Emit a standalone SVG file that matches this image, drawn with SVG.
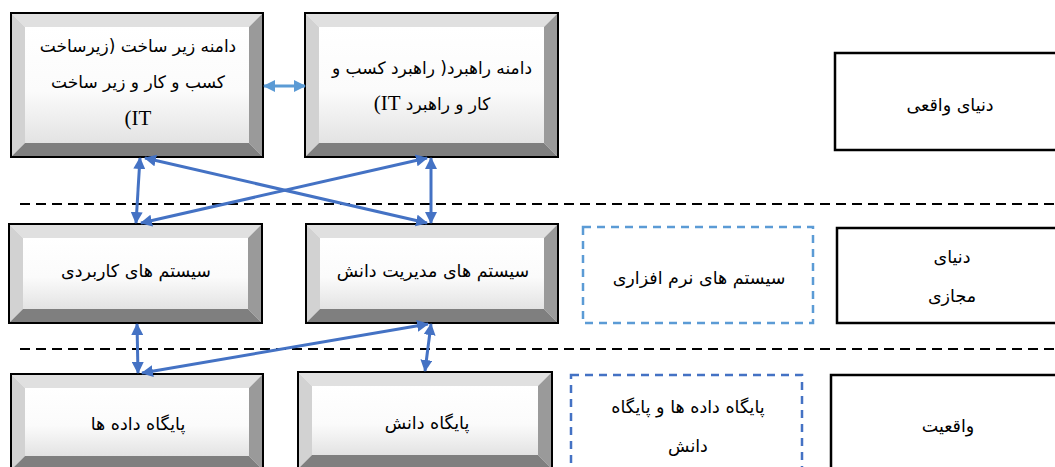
<svg xmlns="http://www.w3.org/2000/svg" width="1055" height="467" viewBox="0 0 1055 467">
<defs>
<linearGradient id="face" x1="0" y1="0" x2="0" y2="1">
<stop offset="0" stop-color="#ffffff"/>
<stop offset="0.55" stop-color="#fbfbfb"/>
<stop offset="1" stop-color="#e3e3e3"/>
</linearGradient>
<marker id="ah" viewBox="0 0 12 12" refX="11" refY="6" markerWidth="12" markerHeight="12" markerUnits="userSpaceOnUse" orient="auto-start-reverse">
<path d="M0,0 L12,6 L0,12 z" fill="#4472C4"/>
</marker>
<marker id="ahl" viewBox="0 0 12 12" refX="11" refY="6" markerWidth="12" markerHeight="12" markerUnits="userSpaceOnUse" orient="auto-start-reverse">
<path d="M0,0 L12,6 L0,12 z" fill="#5B9BD5"/>
</marker>
</defs>
<style>
.t{fill:#e0e0e0}.l{fill:#d2d2d2}.r{fill:#9a9a9a}.b{fill:#7f7f7f}
.f{fill:url(#face)}
.o{fill:none;stroke:#000;stroke-width:2}
.box{fill:#fff;stroke:#000;stroke-width:2.5}
.dl{fill:none;stroke:#5B9BD5;stroke-width:2.5;stroke-dasharray:8 6}
.dd{fill:none;stroke:#4472C4;stroke-width:2.5;stroke-dasharray:8 6}
.sep{stroke:#000;stroke-width:2;stroke-dasharray:10 6}
.c{fill:none;stroke:#4472C4;stroke-width:3;marker-start:url(#ah);marker-end:url(#ah)}
.cl{fill:none;stroke:#5B9BD5;stroke-width:3;marker-start:url(#ahl);marker-end:url(#ahl)}
text{font-family:"DejaVu Sans","Noto Sans",sans-serif;font-size:17.5px;fill:#000;text-anchor:middle}
.big{font-size:17px}
.lat{font-family:"Liberation Serif",serif;font-size:21px}
</style>

<line class="sep" x1="20" y1="204" x2="1055" y2="204"/>
<line class="sep" x1="20" y1="349" x2="1055" y2="349"/>

<g id="n1">
<rect class="f" x="25" y="27" width="224" height="116"/>
<polygon class="t" points="11,13 263,13 249,27 25,27"/>
<polygon class="l" points="11,13 25,27 25,143 11,157"/>
<polygon class="r" points="263,13 263,157 249,143 249,27"/>
<polygon class="b" points="11,157 25,143 249,143 263,157"/>
<rect class="o" x="11" y="13" width="252" height="144"/>
<text class="big" x="138" y="52" direction="rtl">دامنه زیر ساخت (زیرساخت</text>
<text class="big" x="138" y="88" direction="rtl">کسب و کار و زیر ساخت</text>
<text class="big" x="138" y="125" direction="rtl"><tspan class="lat">IT)</tspan></text>
</g>

<g id="n2">
<rect class="f" x="319" y="27" width="225" height="116"/>
<polygon class="t" points="305,13 558,13 544,27 319,27"/>
<polygon class="l" points="305,13 319,27 319,143 305,157"/>
<polygon class="r" points="558,13 558,157 544,143 544,27"/>
<polygon class="b" points="305,157 319,143 544,143 558,157"/>
<rect class="o" x="305" y="13" width="253" height="144"/>
<text class="big" x="432" y="74" direction="rtl">دامنه راهبرد( راهبرد کسب و</text>
<text class="big" x="432" y="110" direction="rtl">کار و راهبرد <tspan class="lat">IT)</tspan></text>
</g>

<g id="n3">
<rect class="f" x="23" y="238" width="225" height="71"/>
<polygon class="t" points="9,224 262,224 248,238 23,238"/>
<polygon class="l" points="9,224 23,238 23,309 9,323"/>
<polygon class="r" points="262,224 262,323 248,309 248,238"/>
<polygon class="b" points="9,323 23,309 248,309 262,323"/>
<rect class="o" x="9" y="224" width="253" height="99"/>
<text x="136" y="277" direction="rtl">سیستم های کاربردی</text>
</g>

<g id="n4">
<rect class="f" x="320" y="238" width="224" height="71"/>
<polygon class="t" points="306,224 558,224 544,238 320,238"/>
<polygon class="l" points="306,224 320,238 320,309 306,323"/>
<polygon class="r" points="558,224 558,323 544,309 544,238"/>
<polygon class="b" points="306,323 320,309 544,309 558,323"/>
<rect class="o" x="306" y="224" width="252" height="99"/>
<text x="433" y="277" direction="rtl">سیستم های مدیریت دانش</text>
</g>

<g id="n5">
<rect class="f" x="25" y="388" width="224" height="68"/>
<polygon class="t" points="11,374 263,374 249,388 25,388"/>
<polygon class="l" points="11,374 25,388 25,456 11,470"/>
<polygon class="r" points="263,374 263,470 249,456 249,388"/>
<polygon class="b" points="11,470 25,456 249,456 263,470"/>
<rect class="o" x="11" y="374" width="252" height="96"/>
<text x="138" y="430" direction="rtl">پایگاه داده ها</text>
</g>

<g id="n6">
<rect class="f" x="312" y="386" width="226" height="69"/>
<polygon class="t" points="298,372 552,372 538,386 312,386"/>
<polygon class="l" points="298,372 312,386 312,455 298,469"/>
<polygon class="r" points="552,372 552,469 538,455 538,386"/>
<polygon class="b" points="298,469 312,455 538,455 552,469"/>
<rect class="o" x="298" y="372" width="254" height="97"/>
<text x="427" y="429" direction="rtl">پایگاه دانش</text>
</g>

<g id="soft">
<rect class="dl" x="583" y="227" width="230" height="96"/>
<text x="699" y="284" direction="rtl">سیستم های نرم افزاری</text>
</g>

<g id="db">
<rect class="dd" x="571" y="375" width="231" height="100"/>
<text x="688" y="413" direction="rtl">پایگاه داده ها و پایگاه</text>
<text x="688" y="452" direction="rtl">دانش</text>
</g>

<g id="real">
<rect class="box" x="835" y="53" width="230" height="97"/>
<text x="950" y="111" direction="rtl">دنیای واقعی</text>
</g>

<g id="virtual">
<rect class="box" x="837" y="228" width="230" height="95"/>
<text x="952" y="263" direction="rtl">دنیای</text>
<text x="952" y="302" direction="rtl">مجازی</text>
</g>

<g id="reality">
<rect class="box" x="831" y="375" width="235" height="100"/>
<text x="948" y="432" direction="rtl">واقعیت</text>
</g>

<g id="connectors">
<line class="cl" x1="264" y1="86" x2="305" y2="86"/>
<line class="c" x1="140" y1="158" x2="136" y2="223"/>
<line class="c" x1="431" y1="158" x2="431" y2="223"/>
<line class="c" x1="145" y1="158" x2="427" y2="223"/>
<line class="c" x1="427" y1="158" x2="141" y2="223"/>
<line class="c" x1="137" y1="324" x2="138" y2="373"/>
<line class="c" x1="431" y1="324" x2="425" y2="371"/>
<line class="c" x1="428" y1="324" x2="142" y2="373"/>
</g>
</svg>
